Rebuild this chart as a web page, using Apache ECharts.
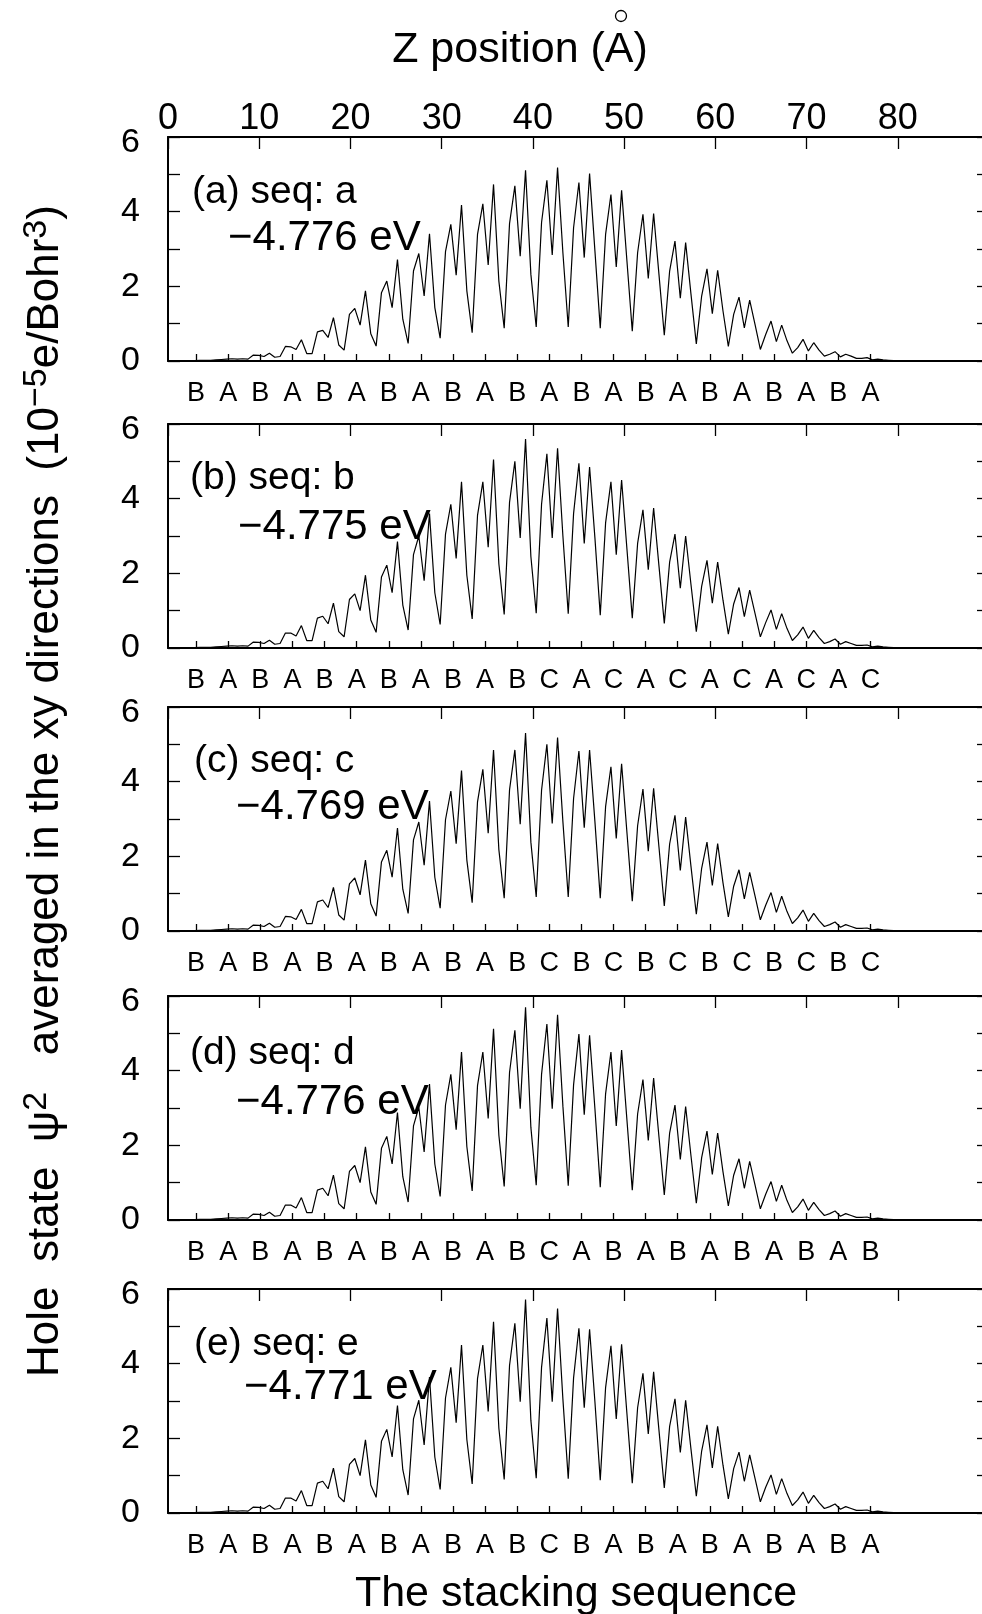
<!DOCTYPE html>
<html>
<head>
<meta charset="utf-8">
<script src="https://cdn.jsdelivr.net/npm/echarts@6/dist/echarts.min.js"></script>
<style>
  html, body { margin: 0; padding: 0; background: #fff; }
  #chart { width: 982px; height: 1614px; }
</style>
</head>
<body>
<div id="chart"></div>
<script>
// z step between density samples (Å)
const dz = 0.585

// layer positions along z (Å) for the stacking letters
const layerZ = [3.07, 6.6, 10.12, 13.64, 17.16, 20.68, 24.2, 27.72, 31.24, 34.76, 38.28,
  41.8, 45.32, 48.84, 52.36, 55.88, 59.4, 62.92, 66.44, 69.96, 73.48, 77.0]

const seqA = ['B','A','B','A','B','A','B','A','B','A','B','A','B','A','B','A','B','A','B','A','B','A']
const seqB = ['B','A','B','A','B','A','B','A','B','A','B','C','A','C','A','C','A','C','A','C','A','C']
const seqC = ['B','A','B','A','B','A','B','A','B','A','B','C','B','C','B','C','B','C','B','C','B','C']
const seqD = ['B','A','B','A','B','A','B','A','B','A','B','C','A','B','A','B','A','B','A','B','A','B']
const seqE = ['B','A','B','A','B','A','B','A','B','A','B','C','B','A','B','A','B','A','B','A','B','A']

const panelNames = ['(a) seq: a', '(b) seq: b', '(c) seq: c', '(d) seq: d', '(e) seq: e']
const energies = ['\u22124.776 eV', '\u22124.775 eV', '\u22124.769 eV', '\u22124.776 eV', '\u22124.771 eV']

// |psi|^2 in 1e-5 e/Bohr^3, one value per z sample
const densA = [
  0, 0, 0, 0.01, 0.01, 0.01, 0.02, 0.02, 0.02, 0.03, 0.04, 0.05, 0.06, 0.05, 0.06, 0.05,
  0.16, 0.15, 0.12, 0.21, 0.10, 0.12,
  0.39, 0.38, 0.31, 0.57, 0.20, 0.20,
  0.78, 0.82, 0.63, 1.16, 0.43, 0.29,
  1.25, 1.41, 0.96, 1.88, 0.73, 0.40,
  1.83, 2.14, 1.43, 2.72, 1.12, 0.47,
  2.41, 2.88, 1.74, 3.41, 1.43, 0.61,
  2.93, 3.66, 2.30, 4.18, 1.88, 0.76,
  3.39, 4.21, 2.57, 4.73, 2.14, 0.88,
  3.68, 4.69, 2.81, 5.11, 2.32, 0.91,
  3.71, 4.84, 2.84, 5.18, 2.90, 0.91,
  3.57, 4.78, 2.77, 5.02, 2.95, 0.88,
  3.39, 4.46, 2.52, 4.57, 2.68, 0.80,
  2.90, 3.93, 2.21, 3.95, 2.32, 0.69,
  2.41, 3.21, 1.68, 3.17, 1.79, 0.46,
  1.74, 2.47, 1.27, 2.43, 1.34, 0.39,
  1.25, 1.71, 0.89, 1.63, 0.98, 0.31,
  0.71, 1.07, 0.52, 0.96, 0.54, 0.21,
  0.36, 0.58, 0.27, 0.49, 0.29, 0.13,
  0.18, 0.25, 0.11, 0.18, 0.13, 0.07,
  0.07, 0.09, 0.03, 0.05, 0.03, 0.02, 0.01,
  0, 0, 0, 0, 0, 0, 0, 0, 0, 0, 0, 0, 0, 0, 0, 0
]
const densB = [
  0, 0, 0, 0.01, 0.01, 0.01, 0.02, 0.02, 0.02, 0.03, 0.04, 0.05, 0.06, 0.05, 0.06, 0.05,
  0.16, 0.15, 0.12, 0.21, 0.10, 0.12,
  0.40, 0.40, 0.32, 0.60, 0.20, 0.20,
  0.80, 0.85, 0.65, 1.20, 0.44, 0.30,
  1.30, 1.45, 1.00, 1.95, 0.75, 0.42,
  1.90, 2.22, 1.48, 2.85, 1.15, 0.48,
  2.50, 3.00, 1.80, 3.60, 1.48, 0.63,
  3.05, 3.85, 2.40, 4.45, 1.95, 0.78,
  3.55, 4.45, 2.70, 5.05, 2.25, 0.90,
  3.90, 5.00, 2.95, 5.60, 2.45, 0.93,
  3.85, 5.20, 2.95, 5.35, 3.00, 0.92,
  3.60, 4.95, 2.80, 4.85, 2.95, 0.88,
  3.35, 4.45, 2.50, 4.50, 2.65, 0.80,
  2.80, 3.70, 2.10, 3.75, 2.20, 0.66,
  2.30, 3.05, 1.60, 3.00, 1.70, 0.44,
  1.65, 2.35, 1.20, 2.30, 1.28, 0.37,
  1.18, 1.62, 0.84, 1.55, 0.93, 0.30,
  0.68, 1.02, 0.50, 0.92, 0.52, 0.20,
  0.35, 0.56, 0.26, 0.47, 0.28, 0.12,
  0.17, 0.24, 0.10, 0.17, 0.12, 0.07,
  0.07, 0.08, 0.03, 0.05, 0.03, 0.02, 0.01,
  0, 0, 0, 0, 0, 0, 0, 0, 0, 0, 0, 0, 0, 0, 0, 0
]
const densC = [
  0, 0, 0, 0.01, 0.01, 0.01, 0.02, 0.02, 0.02, 0.03, 0.04, 0.05, 0.06, 0.05, 0.06, 0.05,
  0.16, 0.15, 0.12, 0.21, 0.10, 0.12,
  0.39, 0.38, 0.31, 0.58, 0.20, 0.20,
  0.78, 0.83, 0.63, 1.17, 0.43, 0.29,
  1.26, 1.42, 0.97, 1.90, 0.73, 0.40,
  1.85, 2.16, 1.44, 2.76, 1.12, 0.47,
  2.44, 2.92, 1.76, 3.48, 1.44, 0.61,
  2.98, 3.75, 2.34, 4.30, 1.90, 0.76,
  3.46, 4.33, 2.62, 4.85, 2.18, 0.88,
  3.78, 4.85, 2.86, 5.30, 2.38, 0.91,
  3.77, 5.00, 2.88, 5.18, 2.93, 0.91,
  3.55, 4.82, 2.77, 4.85, 2.93, 0.88,
  3.33, 4.40, 2.48, 4.48, 2.64, 0.80,
  2.82, 3.80, 2.14, 3.82, 2.25, 0.67,
  2.33, 3.10, 1.62, 3.05, 1.73, 0.45,
  1.68, 2.38, 1.22, 2.34, 1.29, 0.38,
  1.20, 1.64, 0.86, 1.57, 0.94, 0.30,
  0.69, 1.03, 0.50, 0.93, 0.52, 0.20,
  0.35, 0.56, 0.26, 0.47, 0.28, 0.12,
  0.17, 0.24, 0.10, 0.17, 0.12, 0.07,
  0.07, 0.08, 0.03, 0.05, 0.03, 0.02, 0.01,
  0, 0, 0, 0, 0, 0, 0, 0, 0, 0, 0, 0, 0, 0, 0, 0
]
const densD = [
  0, 0, 0, 0.01, 0.01, 0.01, 0.02, 0.02, 0.02, 0.03, 0.04, 0.05, 0.06, 0.05, 0.06, 0.05,
  0.16, 0.15, 0.12, 0.21, 0.10, 0.12,
  0.40, 0.40, 0.32, 0.60, 0.20, 0.20,
  0.80, 0.85, 0.65, 1.20, 0.44, 0.30,
  1.30, 1.46, 1.00, 1.96, 0.75, 0.42,
  1.92, 2.24, 1.50, 2.88, 1.16, 0.48,
  2.52, 3.02, 1.82, 3.64, 1.50, 0.63,
  3.08, 3.90, 2.42, 4.50, 1.97, 0.78,
  3.60, 4.50, 2.72, 5.12, 2.27, 0.90,
  3.95, 5.08, 2.98, 5.70, 2.48, 0.93,
  3.90, 5.25, 2.98, 5.50, 3.05, 0.92,
  3.62, 4.98, 2.82, 4.95, 2.98, 0.88,
  3.38, 4.50, 2.52, 4.55, 2.68, 0.80,
  2.84, 3.76, 2.13, 3.80, 2.23, 0.67,
  2.33, 3.08, 1.62, 3.04, 1.72, 0.45,
  1.67, 2.38, 1.22, 2.33, 1.29, 0.38,
  1.20, 1.64, 0.85, 1.57, 0.94, 0.30,
  0.69, 1.03, 0.50, 0.93, 0.52, 0.20,
  0.35, 0.56, 0.26, 0.47, 0.28, 0.12,
  0.17, 0.24, 0.10, 0.17, 0.12, 0.07,
  0.07, 0.08, 0.03, 0.05, 0.03, 0.02, 0.01,
  0, 0, 0, 0, 0, 0, 0, 0, 0, 0, 0, 0, 0, 0, 0, 0
]
const densE = [
  0, 0, 0, 0.01, 0.01, 0.01, 0.02, 0.02, 0.02, 0.03, 0.04, 0.05, 0.06, 0.05, 0.06, 0.05,
  0.16, 0.15, 0.12, 0.21, 0.10, 0.12,
  0.40, 0.40, 0.32, 0.60, 0.20, 0.20,
  0.80, 0.85, 0.65, 1.20, 0.44, 0.30,
  1.30, 1.46, 1.00, 1.96, 0.75, 0.42,
  1.92, 2.24, 1.50, 2.88, 1.16, 0.48,
  2.52, 3.02, 1.82, 3.64, 1.50, 0.63,
  3.08, 3.90, 2.42, 4.50, 1.97, 0.78,
  3.60, 4.50, 2.72, 5.12, 2.27, 0.90,
  3.95, 5.08, 2.98, 5.72, 2.48, 0.93,
  3.90, 5.22, 2.98, 5.48, 3.05, 0.92,
  3.62, 4.95, 2.82, 4.92, 2.98, 0.88,
  3.36, 4.48, 2.52, 4.52, 2.66, 0.80,
  2.82, 3.74, 2.12, 3.78, 2.22, 0.67,
  2.32, 3.06, 1.62, 3.02, 1.71, 0.45,
  1.66, 2.36, 1.21, 2.32, 1.28, 0.38,
  1.19, 1.63, 0.85, 1.56, 0.93, 0.30,
  0.69, 1.02, 0.50, 0.92, 0.52, 0.20,
  0.35, 0.56, 0.26, 0.47, 0.28, 0.12,
  0.17, 0.24, 0.10, 0.17, 0.12, 0.07,
  0.07, 0.08, 0.03, 0.05, 0.03, 0.02, 0.01,
  0, 0, 0, 0, 0, 0, 0, 0, 0, 0, 0, 0, 0, 0, 0, 0
]

const densities = [densA, densB, densC, densD, densE]
const sequences = [seqA, seqB, seqC, seqD, seqE]

const FONT = 'Liberation Sans'
const PLOT_LEFT = 168
const PLOT_W = 821
const PLOT_H = 224
const panelTops = [137, 424, 707, 996, 1289]
// [name x, name dy, energy x, energy dy] relative to each panel top
const textPos = [[192, 55, 228, 101], [190, 54, 238, 103], [194, 54, 236, 100], [190, 57, 236, 106], [194, 55, 244, 98]]

const chart = echarts.init(document.getElementById('chart'), null, { renderer: 'canvas' })

const black = { color: '#000', width: 2 }
const tickStyle = { color: '#000', width: 1.3 }
const grid = []
const xAxis = []
const yAxis = []
const series = []
const graphic = []

panelTops.forEach((top, p) => {
  grid.push({ left: PLOT_LEFT, top, width: PLOT_W, height: PLOT_H, outerBoundsMode: 'none', containLabel: false })
  const seq = sequences[p]
  // bottom axis: stacking letters at the layer positions
  xAxis.push({
    type: 'value', gridIndex: p, position: 'bottom', min: 0, max: 90,
    axisLine: { show: true, onZero: false, lineStyle: black },
    axisTick: { show: true, inside: true, length: 7, customValues: layerZ, lineStyle: tickStyle },
    axisLabel: {
      show: true, customValues: layerZ, margin: 19, color: '#000', fontFamily: FONT, fontSize: 27,
      formatter: (v) => {
        const k = layerZ.findIndex((z) => Math.abs(z - v) < 1e-6)
        return k >= 0 ? seq[k] : ''
      },
    },
    splitLine: { show: false },
  })
  // top axis: z position
  xAxis.push({
    type: 'value', gridIndex: p, position: 'top', min: 0, max: 90, interval: 10,
    axisLine: { show: true, onZero: false, lineStyle: black },
    axisTick: { show: true, inside: true, length: 12, lineStyle: tickStyle },
    axisLabel: {
      show: p === 0, margin: 0, color: '#000', fontFamily: FONT, fontSize: 36,
      formatter: (v) => (v >= 90 ? '' : String(v)),
    },
    splitLine: { show: false },
  })
  yAxis.push({
    type: 'value', gridIndex: p, position: 'left', min: 0, max: 6, interval: 1,
    axisLine: { show: true, onZero: false, lineStyle: black },
    axisTick: { show: true, inside: true, length: 12, lineStyle: tickStyle },
    axisLabel: {
      margin: 28, color: '#000', fontFamily: FONT, fontSize: 34,
      formatter: (v) => (v === 6 ? '{t|6}' : v % 2 === 0 ? String(v) : ''),
      rich: { t: { fontFamily: FONT, fontSize: 34, color: '#000', padding: [12, 0, 0, 0] } },
    },
    splitLine: { show: false },
  })
  yAxis.push({
    type: 'value', gridIndex: p, position: 'right', min: 0, max: 6, interval: 1,
    axisLine: { show: true, onZero: false, lineStyle: black },
    axisTick: { show: true, inside: true, length: 12, lineStyle: tickStyle },
    axisLabel: { show: false },
    splitLine: { show: false },
  })
  series.push({
    type: 'line', xAxisIndex: 2 * p, yAxisIndex: 2 * p,
    data: densities[p].map((v, i) => [i * dz, v]),
    showSymbol: false, silent: true, animation: false,
    lineStyle: { color: '#000', width: 1.2 },
  })
  const t = textPos[p]
  graphic.push({
    type: 'text', x: t[0], y: top + t[1],
    style: { text: panelNames[p], fill: '#000', font: `39px "${FONT}"`, verticalAlign: 'middle' },
  })
  graphic.push({
    type: 'text', x: t[2], y: top + t[3],
    style: { text: energies[p], fill: '#000', font: `42px "${FONT}"`, verticalAlign: 'middle' },
  })
})

// axis titles
graphic.push({
  type: 'text', x: 520, y: 50,
  style: { text: 'Z position (A)', fill: '#000', font: `43px "${FONT}"`, align: 'center', verticalAlign: 'middle' },
})
graphic.push({
  type: 'circle', shape: { cx: 621, cy: 16, r: 5.5 },
  style: { fill: 'none', stroke: '#000', lineWidth: 1.3 },
})
graphic.push({
  type: 'text', x: 576, y: 1594,
  style: { text: 'The stacking sequence', fill: '#000', font: `43px "${FONT}"`, align: 'center', verticalAlign: 'middle' },
})
graphic.push({
  type: 'text', x: 46, y: 791, rotation: Math.PI / 2,
  style: {
    text: '{n|Hole  state  \u03c8}{s|2}{n|   averaged in the xy directions  (10}{s|\u22125}{n|e/Bohr}{s|3}{n|)}',
    fill: '#000', align: 'center', verticalAlign: 'middle',
    rich: {
      n: { fontFamily: FONT, fontSize: 44, lineHeight: 52, fill: '#000' },
      s: { fontFamily: FONT, fontSize: 34, lineHeight: 52, verticalAlign: 'top', fill: '#000' },
    },
  },
})

chart.setOption({
  animation: false,
  backgroundColor: '#fff',
  grid, xAxis, yAxis, series, graphic,
})
</script>
</body>
</html>
